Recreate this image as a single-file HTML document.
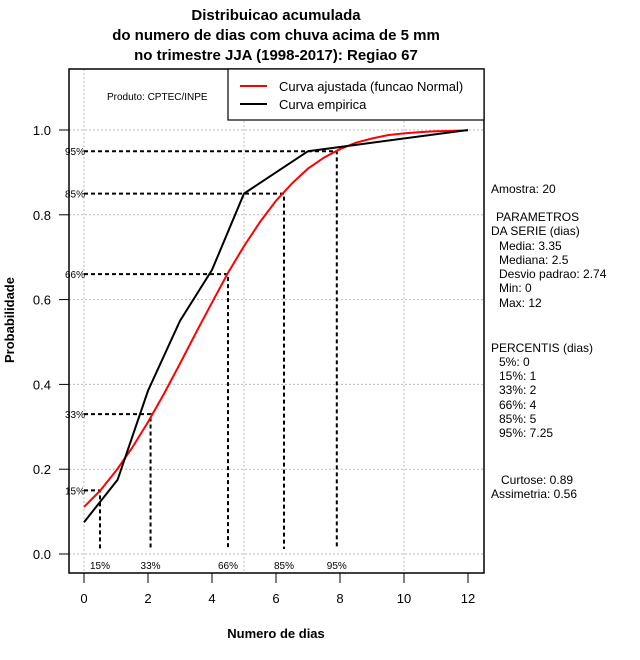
<!DOCTYPE html>
<html><head><meta charset="utf-8"><style>
body{margin:0;background:#fff;}
svg{display:block;font-family:"Liberation Sans",sans-serif;}
</style></head><body>
<svg id="chart" width="640" height="660" viewBox="0 0 640 660" xmlns="http://www.w3.org/2000/svg">
<g font-weight="bold" font-size="15" text-anchor="middle" fill="#000">
<text x="276" y="20">Distribuicao acumulada</text>
<text x="276" y="40">do numero de dias com chuva acima de 5 mm</text>
<text x="276" y="60">no trimestre JJA (1998-2017): Regiao 67</text>
</g>
<g id="grid"></g>
<rect x="69" y="69" width="415" height="504" fill="none" stroke="#000" stroke-width="1.5"/>
<g id="axes"></g>
<g id="pct"></g>
<g id="series"></g>
<text x="107" y="100" font-size="10">Produto: CPTEC/INPE</text>
<g>
<rect x="228" y="69" width="256" height="51" fill="#fff" stroke="#000" stroke-width="1.2"/>
<line x1="240" y1="86" x2="267" y2="86" stroke="#f00" stroke-width="2"/>
<text x="279" y="91" font-size="13">Curva ajustada (funcao Normal)</text>
<line x1="240" y1="104" x2="267" y2="104" stroke="#000" stroke-width="2"/>
<text x="279" y="109" font-size="13">Curva empirica</text>
</g>
<text transform="translate(14,320) rotate(-90)" text-anchor="middle" font-size="13" font-weight="bold">Probabilidade</text>
<text x="276" y="638" text-anchor="middle" font-size="13" font-weight="bold">Numero de dias</text>
<g font-size="12">
<text x="491" y="193">Amostra: 20</text>
<text x="496" y="221">PARAMETROS</text>
<text x="491" y="235">DA SERIE (dias)</text>
<text x="499" y="250">Media: 3.35</text>
<text x="499" y="264">Mediana: 2.5</text>
<text x="499" y="278">Desvio padrao: 2.74</text>
<text x="499" y="292">Min: 0</text>
<text x="499" y="307">Max: 12</text>
<text x="491" y="352">PERCENTIS (dias)</text>
<text x="499" y="366">5%: 0</text>
<text x="499" y="380">15%: 1</text>
<text x="499" y="394">33%: 2</text>
<text x="499" y="409">66%: 4</text>
<text x="499" y="423">85%: 5</text>
<text x="499" y="437">95%: 7.25</text>
<text x="501" y="484">Curtose: 0.89</text>
<text x="491" y="498">Assimetria: 0.56</text>
</g>
</svg>
<script>
const xTicks=[0,2,4,6,8,10,12];
const yTicks=[0.0,0.2,0.4,0.6,0.8,1.0];
const xGrid=[0,5,10];
const empX=[0,1.05,2,3,4,5,7,8,12];
const empY=[0.075,0.175,0.385,0.55,0.67,0.85,0.95,0.96,1.0];
const fitX=[0,0.5,1,1.5,2,2.5,3,3.5,4,4.5,5,5.5,6,6.5,7,7.5,8,8.5,9,9.5,10,10.5,11,11.5,12];
const fitY=[0.111,0.149,0.196,0.250,0.311,0.378,0.449,0.522,0.593,0.663,0.726,0.783,0.833,0.874,0.909,0.935,0.955,0.970,0.980,0.988,0.992,0.995,0.997,0.998,0.999];
const pctLabels=["15%","33%","66%","85%","95%"];
const pctProb=[0.15,0.33,0.66,0.85,0.95];
const pctX=[0.5,2.08,4.5,6.25,7.9];

const X=v=>84+v*32, Y=p=>554-p*424;
const NS="http://www.w3.org/2000/svg";
function mk(tag,parent,attrs){const e=document.createElementNS(NS,tag);for(const k in attrs)e.setAttribute(k,attrs[k]);parent.appendChild(e);return e;}
const grid=document.getElementById('grid'),axes=document.getElementById('axes'),pct=document.getElementById('pct'),series=document.getElementById('series');
xGrid.forEach(v=>{const l=mk('line',grid,{x1:X(v),x2:X(v),y1:69,y2:573,stroke:'#bbb','stroke-dasharray':'2,2'});

});
yTicks.forEach(p=>{const l=mk('line',grid,{x1:69,x2:484,y1:Y(p),y2:Y(p),stroke:'#bbb','stroke-dasharray':'2,2'});

});
xTicks.forEach(v=>{mk('line',axes,{x1:X(v),x2:X(v),y1:573,y2:583,stroke:'#000'});
const t=mk('text',axes,{x:X(v),y:603,'text-anchor':'middle','font-size':'13'});t.textContent=v;

});
yTicks.forEach(p=>{mk('line',axes,{x1:59,x2:69,y1:Y(p),y2:Y(p),stroke:'#000'});
const t=mk('text',axes,{x:51,y:Y(p)+5,'text-anchor':'end','font-size':'13'});t.textContent=p.toFixed(1);

});
pctProb.forEach((p,i)=>{
const d=`M${X(0)},${Y(p)}H${X(pctX[i])}V549`;
const g=mk('path',pct,{d:d,fill:'none',stroke:'#000','stroke-width':2,'stroke-dasharray':'4,3'});


const t=mk('text',pct,{x:85,y:Y(p)+4,'text-anchor':'end','font-size':'10'});t.textContent=pctLabels[i];


const b=mk('text',pct,{x:X(pctX[i]),y:569,'text-anchor':'middle','font-size':'10'});b.textContent=pctLabels[i];


});
const fp=mk('polyline',series,{points:fitX.map((x,i)=>X(x)+','+Y(fitY[i])).join(' '),fill:'none',stroke:'#f00','stroke-width':2});


const ep=mk('polyline',series,{points:empX.map((x,i)=>X(x)+','+Y(empY[i])).join(' '),fill:'none',stroke:'#000','stroke-width':2});


</script>
</body></html>
